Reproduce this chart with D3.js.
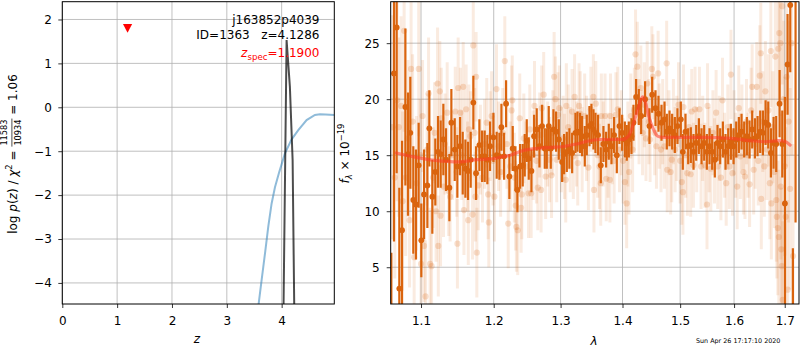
<!DOCTYPE html>
<html>
<head>
<meta charset="utf-8">
<script src="https://cdn.jsdelivr.net/npm/d3@7"></script>
<style>
  body { margin: 0; background: #fff; }
  svg { font-family: "DejaVu Sans", sans-serif; }
</style>
</head>
<body>
<svg id="fig" width="800" height="350"></svg>
<script>
// ---------- p(z) panel ----------
const zTicks = [0, 1, 2, 3, 4];
const logpTicks = [-4, -3, -2, -1, 0, 1, 2];
// chi^2-based curve
const chiZ   = [3.50, 3.581, 3.635, 3.696, 3.756, 3.817, 3.878, 3.957, 4.06, 4.182, 4.303, 4.455, 4.607, 4.698, 4.80, 4.96];
const chiVal = [-5.4, -4.47, -3.93, -3.33, -2.72, -2.19, -1.82, -1.47, -1.05, -0.73, -0.52, -0.29, -0.175, -0.16, -0.165, -0.175];
// log p(z)
const pzZ   = [3.95, 4.03, 4.09, 4.15, 4.20, 4.26];
const pzLog = [-20, -5.0, 1.53, 0.47, -1.2, -8];
const zSpec = 1.19, zSpecMark = 1.80;

// ---------- spectrum panel ----------
const lamTicks = [1.1, 1.2, 1.3, 1.4, 1.5, 1.6, 1.7];
const fluxTicks = [5, 10, 15, 20, 25];

const darkLam = [1.0616,1.0650,1.0684,1.0718,1.0753,1.0796,1.0830,1.0860,1.0899,1.0934,1.0969,1.1004,1.1040,1.1084,1.1110,1.1150,1.1190,1.1226,1.1262,1.1298,
1.1334,1.1380,1.1407,1.1453,1.1489,1.1526,1.1563,1.1600,1.1637,1.1674,1.1711,1.1749,1.1796,1.1834,1.1871,1.1909,1.1947,1.1996,1.2043,1.2082,
1.2111,1.2150,1.2179,1.2227,1.2276,1.2316,1.2345,1.2385,1.2424,1.2454,1.2484,1.2514,1.2554,1.2594,1.2634,1.2675,1.2715,1.2756,1.2787,1.2817,
1.2848,1.2889,1.2930,1.2972,1.3024,1.3055,1.3097,1.3138,1.3181,1.3233,1.3265,1.3307,1.3339,1.3382,1.3414,1.3457,1.3489,1.3522,1.3554,1.3597,
1.3641,1.3684,1.3728,1.3772,1.3816,1.3860,1.3905,1.3949,1.3994,1.4039,1.4072,1.4106,1.4151,1.4185,1.4230,1.4276,1.4316,1.4384,1.4459,1.4506,
1.4564,1.4616,1.4669,1.4722,1.4763,1.4810,1.4857,1.4905,1.4952,1.5012,1.5048,1.5096,1.5145,1.5193,1.5242,1.5291,1.5340,1.5389,1.5438,1.5487,
1.5537,1.5586,1.5636,1.5686,1.5736,1.5787,1.5837,1.5888,1.5939,1.5990,1.6041,1.6092,1.6144,1.6195,1.6247,1.6299,1.6351,1.6404,1.6456,1.6509,
1.6562,1.6615,1.6668,1.6721,1.6775,1.6828,1.6896,1.6950,1.7004,1.7058,1.7113,1.7167,1.7222];
const darkFlux = [0.0,22.3,26.4,3.1,8.3,19.3,15.1,17.0,11.0,10.6,14.1,7.4,11.5,12.3,17.4,11.3,13.5,15.3,15.1,16.4,
14.6,12.1,17.9,15.5,14.0,15.8,14.3,13.8,13.6,14.6,19.7,13.4,15.9,14.9,14.9,14.6,15.8,16.6,15.0,14.9,
17.5,14.9,19.6,13.1,15.6,13.8,11.9,14.0,14.1,15.0,16.3,14.7,13.6,16.7,17.3,15.8,17.6,15.6,15.6,17.6,
15.6,17.3,17.1,16.4,14.4,15.1,15.3,15.6,15.2,17.0,17.1,17.0,16.7,15.8,16.8,17.6,17.8,17.3,17.0,16.8,
14.1,16.0,15.5,16.2,15.8,16.8,15.0,17.6,17.0,16.4,16.1,16.4,16.7,17.9,20.2,19.3,18.5,20.0,17.6,20.4,
19.2,18.7,17.9,18.2,17.1,17.4,17.1,16.8,17.6,18.2,15.3,17.1,15.8,15.9,15.3,16.1,16.7,15.8,16.1,15.3,
15.8,15.3,14.6,16.1,15.8,16.4,15.3,15.8,16.2,15.8,16.4,16.8,17.1,16.4,16.7,16.4,17.3,16.5,16.7,17.1,
17.0,17.9,17.7,15.2,16.1,16.0,19.6,16.0,10.7,23.1,28.4,0.5,31.0];
const darkErr = [6.3,15,13,9,8,7,5.5,5,4.8,4.9,3.8,3.3,4,3.8,3.4,3.3,3,3.2,3,3.2,
2.8,3,3,2.8,2.8,2.6,2.8,2.6,2.6,2.5,2.4,2.4,2.3,2.3,2.3,2.2,2.2,2.2,2.1,2.1,
2.1,2.1,2.1,2.0,2.0,2.0,2.0,2.0,1.9,1.9,1.9,1.9,1.9,1.9,1.9,1.9,1.9,1.8,1.8,1.8,
1.8,1.8,1.8,1.8,1.8,1.8,1.8,1.8,1.8,1.8,1.8,1.8,1.8,1.8,1.8,1.8,1.8,1.8,1.8,1.8,
1.6,1.6,1.6,1.6,1.6,1.6,1.6,1.6,1.6,1.6,1.6,1.6,1.6,1.6,1.6,1.6,1.6,1.6,1.6,1.6,
1.6,1.6,1.6,1.6,1.6,1.6,1.6,1.6,1.6,1.6,1.6,1.6,1.6,1.6,1.6,1.6,1.6,1.6,1.6,1.6,
1.6,1.6,1.6,1.6,1.6,1.6,1.6,1.6,1.6,1.6,1.6,1.6,1.6,1.6,1.7,1.7,1.7,1.8,1.8,1.9,
2.0,2.0,2.1,2.2,2.3,2.5,3.0,3.0,9.5,4.5,6.0,6.2,22];

const faintLam = [1.063,1.066,1.069,1.071,1.074,1.076,1.078,1.080,1.083,1.085,1.087,1.089,1.091,1.094,1.097,1.099,1.100,1.102,1.104,1.106,
1.108,1.110,1.112,1.114,1.116,1.118,1.120,1.122,1.123,1.125,1.126,1.127,1.130,1.132,1.135,1.137,1.139,1.142,1.146,1.148,
1.149,1.150,1.153,1.155,1.157,1.158,1.161,1.163,1.164,1.165,1.167,1.170,1.171,1.173,1.174,1.175,1.176,1.178,1.181,1.184,
1.187,1.190,1.192,1.193,1.195,1.197,1.199,
1.201,1.204,1.207,1.210,1.213,1.216,1.219,1.221,1.224,1.226,1.227,1.230,1.232,1.233,1.235,1.238,1.240,1.241,1.244,1.247,
1.251,1.253,1.255,1.258,1.260,1.263,1.265,1.268,1.270,1.271,1.274,1.277,1.280,1.283,1.286,1.288,1.290,1.292,1.294,1.296,
1.298,1.301,1.304,1.306,1.308,1.309,1.312,1.315,1.318,1.320,1.322,1.325,1.327,1.329,1.331,1.334,1.338,1.341,1.344,1.348,
1.352,1.353,
1.356,1.359,1.362,1.364,1.365,1.368,1.371,1.373,1.376,1.379,1.380,1.383,1.386,1.389,1.392,1.395,1.398,1.401,1.404,1.407,
1.409,1.411,1.414,1.417,1.420,1.422,1.425,1.428,1.431,1.434,1.437,1.440,1.442,1.445,1.447,1.450,1.452,1.455,1.458,1.461,
1.463,1.466,1.469,1.472,1.476,1.477,1.480,1.483,1.485,1.488,1.491,1.494,1.497,1.500,1.503,1.505,1.506,1.510,1.513,1.516,
1.519,1.521,1.524,1.527,1.530,1.535,1.538,
1.541,1.545,1.549,1.550,1.553,1.556,1.560,1.563,1.566,1.569,1.572,1.575,1.578,1.582,1.585,1.588,1.591,1.594,1.597,1.600,
1.603,1.606,1.609,1.612,1.615,1.618,1.621,1.624,1.627,1.630,1.633,1.635,1.638,1.641,1.644,1.647,1.650,1.652,1.653,1.656,
1.659,1.661,1.664,1.667,1.670,1.672,1.673,1.676,1.679,1.681,1.683,1.684,1.686,1.687,1.688,1.689,1.691,1.692,1.693,1.694,
1.695,1.696,1.698,1.700,1.702,1.704,1.706,1.708,1.711,1.714,1.717];
const faintFlux = [17.5,13.0,19.9,17.5,19.4,10.9,26.1,13.0,16.5,9.2,22.7,18.0,5.9,12.5,22.7,15.0,5.3,18.5,6.9,2.4,
15.5,20.5,5.3,5.1,13.0,17.0,10.0,21.4,6.9,20.7,9.6,18.3,12.2,16.0,18.8,11.8,11.3,15.0,18.9,13.5,
7.1,21.0,18.8,15.0,21.1,10.1,19.1,14.0,9.2,17.3,16.7,9.7,24.8,17.0,11.3,22.0,6.3,12.3,15.5,13.0,
16.0,17.9,11.5,9.0,16.7,18.5,14.5,
11.3,20.9,15.8,13.5,17.0,23.4,16.0,8.9,14.0,19.0,19.9,13.0,10.5,8.6,8.3,18.3,10.3,11.5,16.5,14.0,
11.6,17.3,11.6,15.0,19.4,14.5,12.1,16.8,11.9,19.2,20.4,13.1,16.0,14.6,13.2,17.0,22.0,20.0,14.6,18.6,
19.2,15.5,16.5,14.9,12.8,19.4,17.5,15.5,18.9,14.9,20.2,16.0,14.3,19.4,18.7,15.5,18.5,16.5,13.9,19.1,
20.2,11.9,
19.6,15.0,14.0,12.5,18.5,16.0,18.5,12.9,15.0,12.8,18.5,16.2,14.5,18.6,19.1,15.5,17.0,14.5,12.6,10.7,
16.0,13.5,18.5,15.5,19.0,24.0,22.9,18.0,21.0,17.0,19.5,16.5,21.4,18.0,16.4,22.7,22.0,17.0,15.8,22.3,
17.6,15.5,18.0,15.8,23.2,13.7,17.0,13.5,14.6,18.0,15.5,16.5,19.5,14.5,12.6,11.7,19.3,15.0,13.4,17.5,
13.3,18.9,14.1,19.1,15.5,19.1,14.0,
16.5,14.1,10.6,19.4,15.5,13.8,17.0,14.5,18.8,14.0,16.5,13.0,19.9,15.0,12.5,17.5,14.0,22.2,13.4,17.0,
15.0,12.2,19.2,14.9,17.5,13.5,13.1,18.0,15.0,12.4,19.0,21.1,13.7,16.0,21.1,14.5,22.1,24.1,11.1,18.0,
14.0,20.7,15.5,19.0,12.5,24.3,10.7,17.5,13.5,23.8,11.0,9.5,8.5,24.5,7.7,25.9,25.0,12.2,6.6,5.1,
28.3,2.1,20.0,14.0,9.5,22.0,3.0,18.0,12.0,25.0,6.0];
const faintErr = [10,9,9,8,8,8,9,7,7,6,7,6,6,6,6,5,5,5,5,5,
5,5,5,5,4.5,4.5,4.5,5,4.5,4.5,4.5,4.5,4.5,4.5,4.5,4,4,4,4,4,
4,4.5,4,4,4,4,4,4,4,4,4,4,4.5,4,4,4,4,4,4,4,
4,4,4,4,4,4,4,
4,4,4,4,4,4,4,4,4,4,4,4,4,4,4,4,4,4,4,4,
4,4,4,4,4,3.8,3.8,3.8,3.8,3.8,3.8,3.8,3.8,3.8,3.8,3.8,4,3.8,3.8,3.8,
3.8,3.8,3.8,3.8,3.8,3.8,3.8,3.8,3.8,3.8,3.8,3.8,3.8,3.8,3.8,3.8,3.8,3.8,3.8,3.8,
3.8,3.8,
3.8,3.8,3.8,3.8,3.8,3.8,3.8,3.8,3.8,3.8,3.8,3.8,3.8,3.8,3.8,3.8,3.8,3.8,3.8,4,
3.8,3.8,3.8,3.8,3.8,4,4,3.8,3.8,3.8,3.8,3.8,3.8,3.8,3.8,3.8,3.8,3.8,3.8,3.8,
3.8,3.8,3.8,3.8,3.8,3.8,3.8,3.8,3.8,3.8,3.8,3.8,3.8,3.8,3.8,3.8,3.8,3.8,3.8,3.8,
3.8,3.8,3.8,3.8,3.8,3.8,3.8,
3.8,3.8,4,3.8,3.8,3.8,3.8,3.8,3.8,3.8,3.8,3.8,3.8,3.8,3.8,3.8,3.8,4,3.8,3.8,
3.8,3.8,3.8,3.8,3.8,3.8,3.8,3.8,3.8,3.8,3.8,3.8,4,4,4,4,4.5,4.5,4.5,4.5,
4.5,4.5,4.5,5,5,5,5,5,5,5.5,5.5,5.5,6,6,6,6,6.5,6.5,6.5,7,
7,7,7,8,8,8,8,9,9,10,10];

// model spectrum
const modelLam  = [1.068,1.080,1.094,1.110,1.125,1.147,1.160,1.175,1.190,1.200,1.212,1.224,1.242,1.263,1.285,1.307,1.325,1.339,1.361,1.380,
1.400,1.410,1.419,1.427,1.434,1.438,1.444,1.452,1.460,1.469,1.500,1.542,1.593,1.633,1.661,1.688,1.702,1.711];
const modelFlux = [15.2,15.0,14.8,14.6,14.5,14.4,14.45,14.6,14.65,14.7,14.85,15.0,15.4,15.6,15.7,15.8,16.0,16.2,16.4,16.4,
16.4,16.7,17.9,19.3,20.2,19.9,18.6,17.4,16.7,16.6,16.6,16.6,16.5,16.3,16.2,16.3,16.2,15.9];

// ---------- drawing ----------
const svg = d3.select("#fig");
const fs = 12;
const gridColor = "#b0b0b0";
const orange = "#da640e";

function styleAxis(g) {
  g.attr("font-family", '"DejaVu Sans", sans-serif').attr("font-size", fs);
  g.select(".domain").remove();
  g.selectAll(".tick line").attr("stroke", "#000").attr("stroke-width", 0.8);
  g.selectAll(".tick text").attr("fill", "#000");
}

// ===== left panel =====
const L = {x0: 62.3, x1: 334.3, y0: 1.7, y1: 304};
const xz = d3.scaleLinear().domain([0, 4.96]).range([L.x0, L.x1]);
const yp = d3.scaleLinear().domain([-4.48, 2.405]).range([L.y1, L.y0]);

svg.append("clipPath").attr("id", "clipL").append("rect")
  .attr("x", L.x0).attr("y", L.y0).attr("width", L.x1 - L.x0).attr("height", L.y1 - L.y0);

const gL = svg.append("g");
gL.selectAll(".gx").data(zTicks).join("line")
  .attr("x1", d => xz(d)).attr("x2", d => xz(d)).attr("y1", L.y0).attr("y2", L.y1)
  .attr("stroke", gridColor).attr("stroke-width", 0.8);
gL.selectAll(".gy").data(logpTicks).join("line")
  .attr("x1", L.x0).attr("x2", L.x1).attr("y1", d => yp(d)).attr("y2", d => yp(d))
  .attr("stroke", gridColor).attr("stroke-width", 0.8);

// annotations
const ann = svg.append("g").attr("font-size", fs).attr("text-anchor", "end");
ann.append("text").attr("x", 319.5).attr("y", 24).text("j163852p4039");
ann.append("text").attr("x", 319.5).attr("y", 39).style("white-space", "pre").text("ID=1363   z=4.1286");
const zs = ann.append("text").attr("x", 319.5).attr("y", 57).attr("fill", "#ff0000");
zs.append("tspan").attr("font-style", "italic").text("z");
zs.append("tspan").attr("font-size", fs * 0.72).attr("dy", 2.5).text("spec");
zs.append("tspan").attr("dy", -2.5).text("=1.1900");

const lineL = d3.line().x(d => xz(d[0])).y(d => yp(d[1]));
const plotL = gL.append("g").attr("clip-path", "url(#clipL)");
plotL.append("path").datum(d3.zip(chiZ, chiVal)).attr("d", lineL)
  .attr("fill", "none").attr("stroke", "#1f77b4").attr("stroke-opacity", 0.5).attr("stroke-width", 2);
plotL.append("path").datum(d3.zip(pzZ, pzLog)).attr("d", lineL)
  .attr("fill", "none").attr("stroke", "#000").attr("stroke-opacity", 0.7).attr("stroke-width", 2);

// spectroscopic redshift marker
const tx = xz(zSpec), ty = yp(zSpecMark);
plotL.append("path").attr("d", `M${tx - 4.6},${ty - 4.2}L${tx + 4.6},${ty - 4.2}L${tx},${ty + 4.4}Z`).attr("fill", "#ff0000");

svg.append("rect").attr("x", L.x0).attr("y", L.y0).attr("width", L.x1 - L.x0).attr("height", L.y1 - L.y0)
  .attr("fill", "none").attr("stroke", "#000").attr("stroke-width", 1);

svg.append("g").attr("transform", `translate(0,${L.y1})`)
  .call(d3.axisBottom(xz).tickValues(zTicks).tickSize(4).tickPadding(8).tickFormat(d3.format("d")))
  .call(styleAxis);
svg.append("g").attr("transform", `translate(${L.x0},0)`)
  .call(d3.axisLeft(yp).tickValues(logpTicks).tickSize(4).tickPadding(6.5).tickFormat(d3.format("d")))
  .call(styleAxis);

svg.append("text").attr("x", 197).attr("y", 343).attr("text-anchor", "middle")
  .attr("font-size", fs).attr("font-style", "italic").text("z");

// y label with fraction
{
  const outer = svg.append("g").attr("transform", "translate(16.5,154) rotate(-90)").attr("font-size", fs);
  const inner = outer.append("g");
  const t1 = inner.append("text").attr("x", 0).attr("y", 0);
  t1.append("tspan").text("log ");
  t1.append("tspan").attr("font-style", "italic").text("p");
  t1.append("tspan").text("(");
  t1.append("tspan").attr("font-style", "italic").text("z");
  t1.append("tspan").text(") / ");
  t1.append("tspan").attr("font-style", "italic").text("χ");
  t1.append("tspan").attr("font-size", fs * 0.7).attr("dy", -5).text("2");
  t1.append("tspan").attr("dy", 5).style("white-space", "pre").text(" = ");
  const w1 = t1.node().getComputedTextLength();
  const num = inner.append("text").attr("font-size", 8.2).attr("text-anchor", "middle").attr("y", -9.2).text("11583");
  const den = inner.append("text").attr("font-size", 8.2).attr("text-anchor", "middle").attr("y", 4.4).text("10934");
  const wf = Math.max(num.node().getComputedTextLength(), den.node().getComputedTextLength()) + 2;
  num.attr("x", w1 + wf / 2);
  den.attr("x", w1 + wf / 2);
  inner.append("line").attr("x1", w1).attr("x2", w1 + wf).attr("y1", -4.6).attr("y2", -4.6)
    .attr("stroke", "#000").attr("stroke-width", 0.7);
  const t3 = inner.append("text").attr("x", w1 + wf).attr("y", 0).style("white-space", "pre").text(" = 1.06");
  const total = w1 + wf + t3.node().getComputedTextLength();
  inner.attr("transform", `translate(${-total / 2},0)`);
}

// ===== right panel =====
const R = {x0: 390.7, x1: 799, y0: 1.7, y1: 304};
const xl = d3.scaleLog().domain([1.0608, 1.7293]).range([R.x0, R.x1]);
const yf = d3.scaleLinear().domain([1.72, 28.7]).range([R.y1, R.y0]);

svg.append("clipPath").attr("id", "clipR").append("rect")
  .attr("x", R.x0).attr("y", R.y0).attr("width", R.x1 - R.x0).attr("height", R.y1 - R.y0);

const gR = svg.append("g");
gR.selectAll(".gx").data(lamTicks).join("line")
  .attr("x1", d => xl(d)).attr("x2", d => xl(d)).attr("y1", R.y0).attr("y2", R.y1)
  .attr("stroke", gridColor).attr("stroke-width", 0.8);
gR.selectAll(".gy").data(fluxTicks).join("line")
  .attr("x1", R.x0).attr("x2", R.x1).attr("y1", d => yf(d)).attr("y2", d => yf(d))
  .attr("stroke", gridColor).attr("stroke-width", 0.8);

const plotR = gR.append("g").attr("clip-path", "url(#clipR)");
const faint = d3.range(faintLam.length).map(i => ({l: faintLam[i], f: faintFlux[i], e: faintErr[i]}));
const dark = d3.range(darkLam.length).map(i => ({l: darkLam[i], f: darkFlux[i], e: darkErr[i]}));

// individual exposures
plotR.append("g").selectAll("line").data(faint).join("line")
  .attr("x1", d => xl(d.l)).attr("x2", d => xl(d.l))
  .attr("y1", d => yf(d.f - d.e)).attr("y2", d => yf(d.f + d.e))
  .attr("stroke", orange).attr("stroke-opacity", 0.13).attr("stroke-width", 3);
plotR.append("g").selectAll("circle").data(faint).join("circle")
  .attr("cx", d => xl(d.l)).attr("cy", d => yf(d.f)).attr("r", 3.1)
  .attr("fill", orange).attr("fill-opacity", 0.2);

// combined spectrum
plotR.append("g").selectAll("line").data(dark).join("line")
  .attr("x1", d => xl(d.l)).attr("x2", d => xl(d.l))
  .attr("y1", d => yf(d.f - d.e)).attr("y2", d => yf(d.f + d.e))
  .attr("stroke", orange).attr("stroke-width", 2.2);
plotR.append("g").selectAll("circle").data(dark).join("circle")
  .attr("cx", d => xl(d.l)).attr("cy", d => yf(d.f)).attr("r", 2.9)
  .attr("fill", orange);

// model
plotR.append("path").datum(d3.zip(modelLam, modelFlux))
  .attr("d", d3.line().curve(d3.curveMonotoneX).x(d => xl(d[0])).y(d => yf(d[1])))
  .attr("fill", "none").attr("stroke", "#ff3a2a").attr("stroke-opacity", 0.55).attr("stroke-width", 3.2)
  .attr("stroke-linecap", "round");

svg.append("rect").attr("x", R.x0).attr("y", R.y0).attr("width", R.x1 - R.x0).attr("height", R.y1 - R.y0)
  .attr("fill", "none").attr("stroke", "#000").attr("stroke-width", 1);

svg.append("g").attr("transform", `translate(0,${R.y1})`)
  .call(d3.axisBottom(xl).tickValues(lamTicks).tickSize(4).tickPadding(8).tickFormat(d3.format(".1f")))
  .call(styleAxis);
svg.append("g").attr("transform", `translate(${R.x0},0)`)
  .call(d3.axisLeft(yf).tickValues(fluxTicks).tickSize(4).tickPadding(7).tickFormat(d3.format("d")))
  .call(styleAxis);

svg.append("text").attr("x", 594).attr("y", 345).attr("text-anchor", "middle")
  .attr("font-size", fs).attr("font-style", "italic").text("λ");

{
  const t = svg.append("text").attr("transform", "translate(349,153.5) rotate(-90)")
    .attr("text-anchor", "middle").attr("font-size", fs);
  t.append("tspan").attr("font-style", "italic").text("f");
  t.append("tspan").attr("font-size", fs * 0.7).attr("dy", 3).attr("font-style", "italic").text("λ");
  t.append("tspan").attr("dy", -3).style("white-space", "pre").text(" × 10");
  t.append("tspan").attr("font-size", fs * 0.7).attr("dy", -5).text("−19");
}

svg.append("text").attr("x", 696).attr("y", 343).attr("font-size", 6.4).text("Sun Apr 26 17:17:10 2020");
</script>
</body>
</html>
